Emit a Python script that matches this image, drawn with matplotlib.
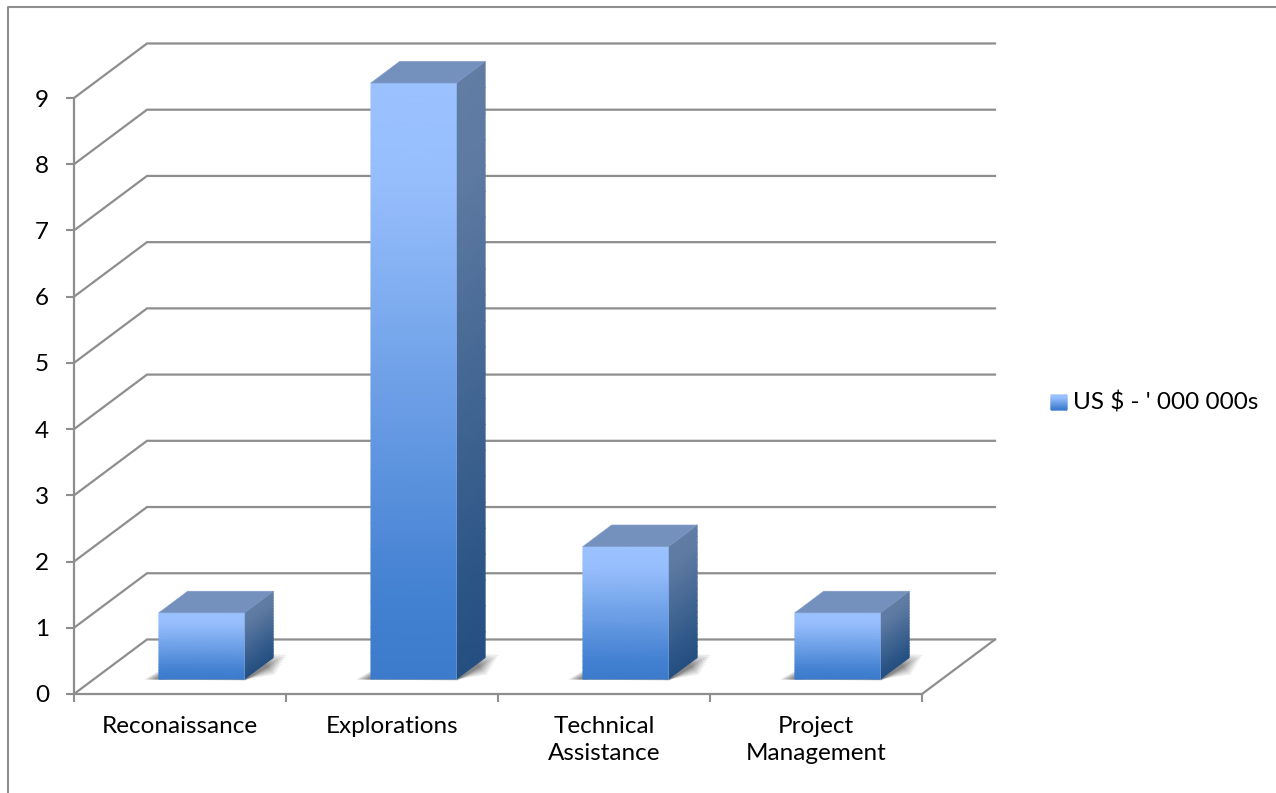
# -*- coding: utf-8 -*-
import numpy as np
import matplotlib
matplotlib.use('Agg')
import matplotlib.pyplot as plt
from matplotlib.colors import LinearSegmentedColormap
from matplotlib.lines import Line2D
from matplotlib.patches import Polygon

categories = ['Reconaissance', 'Explorations', 'Technical\nAssistance', 'Project\nManagement']
values = [1, 9, 2, 1]
y_ticks = [0, 1, 2, 3, 4, 5, 6, 7, 8, 9]
legend_label = "US $ - ' 000 000s"

W, H = 1276, 793
GREY = '#8e8e8e'
plt.rcParams['font.family'] = ['Lato', 'DejaVu Sans']

# pixel sizes of one data unit
PX_X = 212.0
PX_Y = 66.2
wall_dx, wall_dy = 73 / PX_X, 54.5 / PX_Y
bar_dx, bar_dy = 28.7 / PX_X, 21.5 / PX_Y
bar_w = 85.5 / PX_X
bar_base = 15 / PX_Y
bar_shift = (201.7 - 180) / PX_X

front_cmap = LinearSegmentedColormap.from_list('front', [(0, '#3c7bcc'), (0.12, '#417fd0'), (0.85, '#98bffd'), (1, '#9bc2ff')])
side_cmap = LinearSegmentedColormap.from_list('side', [(0, '#254f80'), (0.12, '#2a5485'), (0.85, '#5f7ba3'), (1, '#627ca3')])


def gradient_face(ax, x0, x1, y0, y1, skew, cmap, zorder):
    # vertical gradient on a (possibly sheared) quad
    ys = np.linspace(y0, y1, 2)
    X = np.array([[x0, x1], [x0, x1]])
    Y = np.array([[ys[0], ys[0] + skew], [ys[1], ys[1] + skew]])
    C = np.array([[0.0, 0.0], [1.0, 1.0]])
    return ax.pcolormesh(X, Y, C, cmap=cmap, shading='gouraud', vmin=0, vmax=1,
                         zorder=zorder, clip_on=False)


def vertical_face(ax, x0, x1, y0, y1, skew, cmap, zorder):
    # several rows so the colormap stops are followed
    ys = np.linspace(y0, y1, 24)
    X = np.column_stack([np.full(24, x0), np.full(24, x1)])
    Y = np.column_stack([ys, ys + skew])
    C = np.column_stack([np.linspace(0, 1, 24), np.linspace(0, 1, 24)])
    return ax.pcolormesh(X, Y, C, cmap=cmap, shading='gouraud', vmin=0, vmax=1,
                         zorder=zorder, clip_on=False)


def draw_shadow(ax, x0, x1, y0):
    # soft shadow on the floor, stacked see-through polygons
    for grow in np.linspace(1.0, 0.2, 9):
        pts = [(x0 - 15 * grow / PX_X, y0 - 0.5 / PX_Y),
               (x1 + 1 / PX_X, y0 - 1.5 * grow / PX_Y),
               (x1 + (28.7 + 14 * grow) / PX_X, y0 + 24 * grow / PX_Y),
               (x1 + 10 / PX_X, y0 + 26 / PX_Y),
               (x0, y0 + 8 * grow / PX_Y)]
        ax.add_patch(Polygon(pts, closed=True, fc='#303030', ec='none', alpha=0.085,
                             zorder=3, clip_on=False))


fig = plt.figure(figsize=(W / 100, H / 100), dpi=100, facecolor='white')
ax = fig.add_axes([74 / W, (H - 694) / H, 848 / W, 596 / H])
ax.set_facecolor('none')

# outer chart frame, runs off the picture on the right and at the bottom
fig.add_artist(Line2D([7.5 / W, 7.5 / W, 1], [0, 1 - 6.5 / H, 1 - 6.5 / H], color=GREY, lw=1.5))

n = len(categories)

# wall and floor lines
for v in y_ticks:
    ax.plot([0, wall_dx, n + wall_dx], [v, v + wall_dy, v + wall_dy], color=GREY, lw=1.6,
            zorder=1, clip_on=False, solid_joinstyle='miter')
ax.plot([n, n + wall_dx], [0, wall_dy], color=GREY, lw=1.6, zorder=1, clip_on=False)

# bars
for i, val in enumerate(values):
    x0 = i + 0.5 + bar_shift - bar_w / 2
    x1 = x0 + bar_w
    y0 = bar_base
    y1 = bar_base + val
    draw_shadow(ax, x0, x1, y0)
    vertical_face(ax, x1, x1 + bar_dx, y0, y1, bar_dy, side_cmap, 5)
    vertical_face(ax, x0, x1, y0, y1, 0, front_cmap, 6)
    ax.add_patch(Polygon([(x0, y1), (x1, y1), (x1 + bar_dx, y1 + bar_dy), (x0 + bar_dx, y1 + bar_dy)],
                         closed=True, fc='#7490bd', ec='#7f9bc8', lw=0.5, zorder=6, clip_on=False))
    ax.plot([x1, x1], [y0, y1], color='#7fa5dc', lw=0.6, alpha=0.6, zorder=7, clip_on=False)

ax.set_xlim(0, n)
ax.set_ylim(0, 9)

for s in ['top', 'right']:
    ax.spines[s].set_visible(False)
for s in ['left', 'bottom']:
    ax.spines[s].set_color(GREY)
    ax.spines[s].set_linewidth(1.6)
    ax.spines[s].set_zorder(2)

ax.set_yticks(y_ticks)
ax.set_yticklabels([str(v) for v in y_ticks])
ax.set_xticks(range(n + 1))
ax.set_xticklabels([])
ax.set_xticks([i + 0.5 for i in range(n)], minor=True)
ax.set_xticklabels(categories, minor=True, fontsize=17.5, color='black', linespacing=1.33)
ax.tick_params(axis='x', which='major', length=6, width=1.5, color=GREY)
ax.tick_params(axis='x', which='minor', length=0, pad=16)
ax.tick_params(axis='y', length=6, width=1.5, color=GREY, pad=12, labelsize=17.5, labelcolor='black')

# legend: gradient swatch plus label
leg_ax = fig.add_axes([1051 / W, (H - 410) / H, 16 / W, 15 / H])
leg_ax.set_axis_off()
vertical_face(leg_ax, 0, 1, 0, 1, 0, front_cmap, 1)
leg_ax.set_xlim(0, 1)
leg_ax.set_ylim(0, 1)
fig.text(1073 / W, 1 - 402 / H, legend_label, fontsize=17.5, color='black', ha='left', va='center')

fig.savefig('out.png', dpi=100)
